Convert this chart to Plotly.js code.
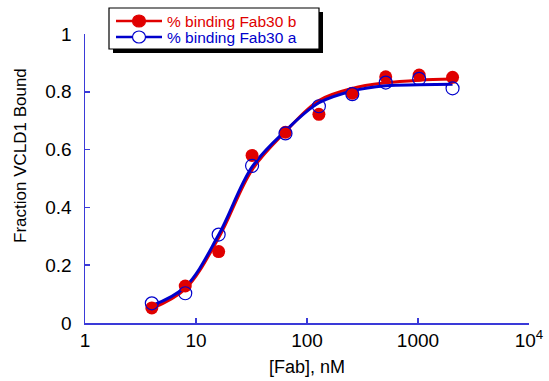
<!DOCTYPE html>
<html><head><meta charset="utf-8">
<script src="https://cdn.plot.ly/plotly-3.0.1.min.js"></script>
<style>html,body{margin:0;padding:0;background:#fff}#chart{width:549px;height:381px}</style>
</head><body><div id="chart"></div>
<script>
// concentrations [Fab], nM
const conc = [4, 8, 16, 32, 64, 128, 256, 512, 1024, 2048];
// measured fractions
const fab30b = [0.052, 0.128, 0.247, 0.580, 0.660, 0.722, 0.795, 0.852, 0.858, 0.850];
const fab30a = [0.068, 0.103, 0.306, 0.544, 0.656, 0.750, 0.792, 0.832, 0.845, 0.812];
// fitted curves
const fitB = [0.050, 0.118, 0.295, 0.530, 0.662, 0.770, 0.812, 0.831, 0.840, 0.844];
const fitA = [0.060, 0.125, 0.305, 0.540, 0.665, 0.762, 0.803, 0.821, 0.824, 0.826];
const tickVals = [1, 10, 100, 1000, 10000];
const tickText = ['1', '10', '100', '1000', '10<sup>4</sup>'];
const yTicks = [0, 0.2, 0.4, 0.6, 0.8, 1];
const yTickText = ['0', '0.2', '0.4', '0.6', '0.8', '1'];
const names = ['% binding Fab30 b', '% binding Fab30 a'];

const RED = '#e00000', BLUE = '#0000cc', AX = '#3a3ad8';
const traces = [
  {x: conc, y: fitB, mode: 'lines', line: {color: RED, width: 3, shape: 'spline'}, showlegend: false, hoverinfo: 'skip'},
  {x: conc, y: fitA, mode: 'lines', line: {color: BLUE, width: 3, shape: 'spline'}, showlegend: false, hoverinfo: 'skip'},
  {x: conc, y: fab30b, mode: 'markers', name: names[0], marker: {color: RED, size: 13, symbol: 'circle'}, showlegend: false},
  {x: conc, y: fab30a, mode: 'markers', name: names[1], marker: {color: BLUE, size: 13, symbol: 'circle-open', line: {width: 1.2}}, showlegend: false}
];

// pixel -> paper helpers for the hand-built legend box (plot area 85..529 x 34..323)
const L = 85, T = 34, W = 444, H = 289;
const px = v => (v - L) / W;
const py = v => (T + H - v) / H;

const legendRows = [
  {name: names[0], color: RED, fill: RED, y: 21},
  {name: names[1], color: BLUE, fill: '#fff', y: 37}
];
const shapes = [
  {type: 'rect', xref: 'paper', yref: 'paper', x0: px(113), x1: px(323), y0: py(53), y1: py(12),
   fillcolor: '#000', line: {width: 0}, layer: 'above'},
  {type: 'rect', xref: 'paper', yref: 'paper', x0: px(109), x1: px(319), y0: py(49), y1: py(8),
   fillcolor: '#fff', line: {color: '#000', width: 1.2}, layer: 'above'}
];
const annotations = [];
legendRows.forEach(r => {
  shapes.push({type: 'line', xref: 'paper', yref: 'paper', x0: px(116), x1: px(162), y0: py(r.y), y1: py(r.y),
    line: {color: r.color, width: 2.5}, layer: 'above'});
  shapes.push({type: 'circle', xref: 'paper', yref: 'paper', xsizemode: 'pixel', ysizemode: 'pixel',
    xanchor: px(139), yanchor: py(r.y), x0: -6.5, x1: 6.5, y0: -6, y1: 6,
    fillcolor: r.fill, line: {color: r.color, width: 1.2}, layer: 'above'});
  annotations.push({xref: 'paper', yref: 'paper', x: px(165), y: py(r.y + 0.5), xanchor: 'left', yanchor: 'middle',
    text: r.name, showarrow: false, font: {size: 15.5, color: r.color}});
});
annotations.push({xref: 'paper', yref: 'paper', x: px(20), y: py(156), xanchor: 'center', yanchor: 'middle',
  text: 'Fraction VCLD1 Bound', textangle: -90, showarrow: false, font: {size: 17, color: '#000'}});

const layout = {
  width: 549, height: 381,
  margin: {l: L, r: 20, t: T, b: 58},
  paper_bgcolor: '#fff', plot_bgcolor: '#fff',
  font: {family: 'Liberation Sans, Arial, sans-serif', color: '#000'},
  showlegend: false,
  xaxis: {type: 'log', range: [0, 4], tickvals: tickVals, ticktext: tickText,
    showgrid: false, zeroline: false, showline: true, linecolor: AX, linewidth: 1.5,
    ticks: 'inside', ticklen: 5, tickcolor: AX, tickwidth: 1.5,
    tickfont: {size: 19}, title: {text: '[Fab], nM', font: {size: 18}, standoff: 10}},
  yaxis: {range: [0, 1], tickvals: yTicks, ticktext: yTickText,
    showgrid: false, zeroline: false, showline: true, linecolor: AX, linewidth: 1.5,
    ticks: 'inside', ticklen: 5, tickcolor: AX, tickwidth: 1.5, ticklabelstandoff: 8,
    tickfont: {size: 19}},
  shapes: shapes,
  annotations: annotations
};
Plotly.newPlot('chart', traces, layout, {staticPlot: true});
</script></body></html>
